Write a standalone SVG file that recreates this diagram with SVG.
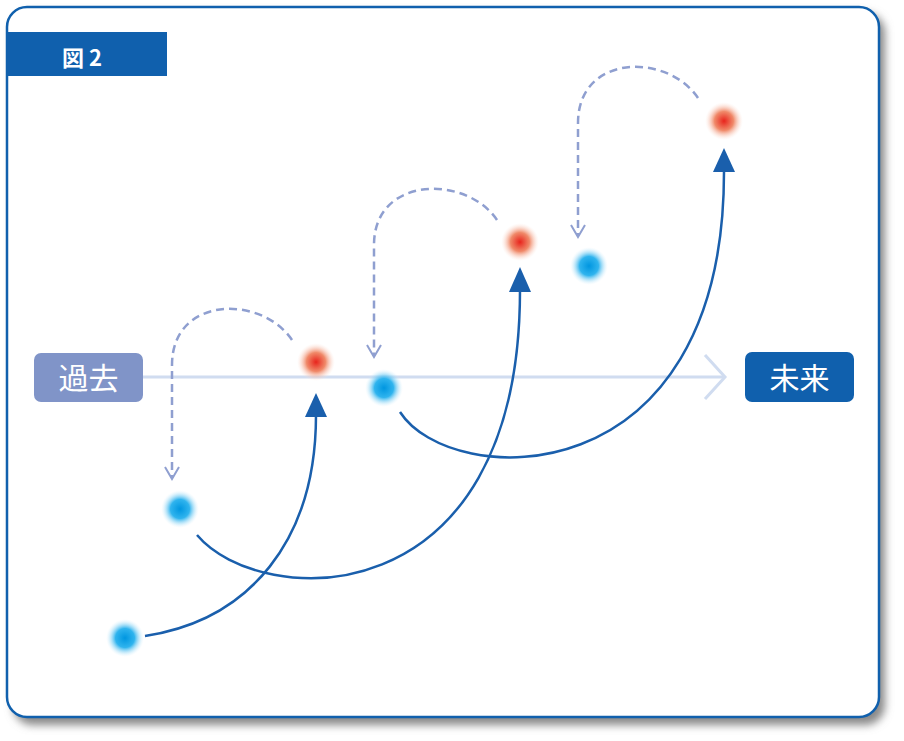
<svg xmlns="http://www.w3.org/2000/svg" width="904" height="741" viewBox="0 0 904 741">
<defs>
<radialGradient id="rg"><stop offset="0" stop-color="#e8241c"/><stop offset="0.5" stop-color="#f08a6a"/><stop offset="1" stop-color="#fde6dc" stop-opacity="0"/></radialGradient>
<radialGradient id="bg"><stop offset="0" stop-color="#0096e0"/><stop offset="0.5" stop-color="#30b4ee"/><stop offset="1" stop-color="#d8f0fc" stop-opacity="0"/></radialGradient>
<filter id="sh" x="-5%" y="-5%" width="110%" height="110%"><feGaussianBlur stdDeviation="4"/></filter>
</defs>
<style>
.s{fill:none;stroke:#1a5fac;stroke-width:2.5}
.d{fill:none;stroke:#8f9fd0;stroke-width:2.5;stroke-dasharray:8 5}
.c{fill:none;stroke:#8f9fd0;stroke-width:2}
.t{fill:#fff;font-family:"Noto Sans CJK JP","Noto Sans",sans-serif}
</style>
<rect x="13" y="13" width="872" height="712" rx="20" fill="#888" filter="url(#sh)"/>
<rect x="7" y="7" width="872" height="710" rx="20" fill="#fff" stroke="#1060ad" stroke-width="2.5"/>
<g id="header"><path d="M7,32 H167 V76 H7 Z" fill="#1060ad"/><text class="t" x="62" y="66" font-size="22" font-weight="bold">図 2</text></g>
<g id="axis"><line x1="143" y1="377" x2="724" y2="377" stroke="#d0dcf0" stroke-width="3"/><polyline points="705,355 725,377 705,399" fill="none" stroke="#d0dcf0" stroke-width="3"/></g>
<g id="past"><rect x="34" y="353" width="109" height="49" rx="7" fill="#8094c8"/><text class="t" x="88.5" y="389" font-size="30" text-anchor="middle">過去</text></g>
<g id="future"><rect x="745" y="352" width="109" height="50" rx="7" fill="#1060ad"/><text class="t" x="799.5" y="389" font-size="30" text-anchor="middle">未来</text></g>
<g id="connectors">
<path class="s" d="M145,636 C250,620 316,540 316,415"/>
<polygon points="316,393 305,417 327,417" fill="#1a5fac"/>
<path class="s" d="M197,535 C260,610 520,620 520,290"/>
<polygon points="520,267 509,292 531,292" fill="#1a5fac"/>
<path class="s" d="M400,412 C450,490 724,500 724,172"/>
<polygon points="724,148 713,172 735,172" fill="#1a5fac"/>
<path class="d" d="M292,340 C262,295 172,295 172,365 L172,478"/>
<polyline class="c" points="165,467 172,479 179,467"/>
<path class="d" d="M497,220 C467,175 374,175 374,245 L374,356"/>
<polyline class="c" points="367,345 374,357 381,345"/>
<path class="d" d="M698,98 C668,53 578,53 578,123 L578,236"/>
<polyline class="c" points="571,225 578,237 585,225"/>
</g>
<g id="dots">
<circle cx="125" cy="638" r="19" fill="url(#bg)"/>
<circle cx="180" cy="509" r="19" fill="url(#bg)"/>
<circle cx="384" cy="388" r="19" fill="url(#bg)"/>
<circle cx="589" cy="266" r="19" fill="url(#bg)"/>
<circle cx="316" cy="362" r="19" fill="url(#rg)"/>
<circle cx="520" cy="242" r="19" fill="url(#rg)"/>
<circle cx="724" cy="121" r="19" fill="url(#rg)"/>
</g>
</svg>
